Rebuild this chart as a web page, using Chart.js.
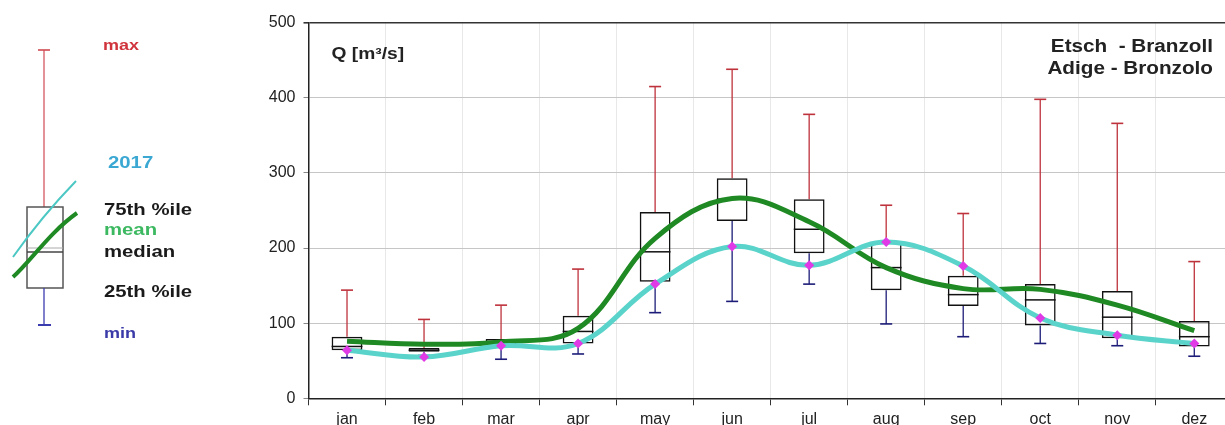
<!DOCTYPE html>
<html>
<head>
<meta charset="utf-8">
<title>Etsch - Branzoll / Adige - Bronzolo</title>
<script src="https://cdn.jsdelivr.net/npm/chart.js@4/dist/chart.umd.min.js"></script>
<style>
  html, body { margin: 0; padding: 0; background: #fff; overflow: hidden; }
  #wrap { position: absolute; left: 0; top: 0; width: 1240px; height: 425px; }
</style>
</head>
<body>
<div id="wrap"><canvas id="chart" width="1240" height="425"></canvas></div>
<script>
// Monthly discharge statistics, Q in m³/s
const months  = ['jan', 'feb', 'mar', 'apr', 'may', 'jun', 'jul', 'aug', 'sep', 'oct', 'nov', 'dez'];
const qMin    = [54, 57, 52, 59, 114, 129, 152,  99,  82,  73,  70,  56];
const q25     = [64, 62, 71, 73, 155, 236, 193, 144, 123,  97,  80,  69];
const qMedian = [69, 64, 75, 89, 195, 265, 225, 174, 138, 131, 108,  82];
const q75     = [82, 67, 79, 110, 248, 293, 265, 208, 163, 152, 143, 103];
const qMax    = [144, 105, 124, 172, 415, 438, 378, 257, 246, 398, 366, 182];
const qMean   = [76, 72, 75, 93, 213, 266, 235, 174, 146, 145, 124,  90];
const q2017   = [64, 55, 70, 73, 152, 202, 177, 208, 176, 107,  84,  73];
const yTicks  = [0, 100, 200, 300, 400, 500];

const COL_MAX = '#be323c';
const COL_MIN = '#1c1c78';
const COL_BOX = '#111111';
const COL_MEAN = '#1f8a24';
const COL_2017 = '#5ad4ca';
const COL_MARK = '#e03ae6';

function stretchedText(ctx, text, x, y, font, color, align, sx) {
  ctx.save();
  ctx.font = font;
  ctx.fillStyle = color;
  ctx.textBaseline = 'alphabetic';
  const w = ctx.measureText(text).width * sx;
  const left = align === 'right' ? x - w : x;
  ctx.translate(left, y);
  ctx.scale(sx, 1);
  ctx.textAlign = 'left';
  ctx.fillText(text, 0, 0);
  ctx.restore();
}

function seg(ctx, x1, y1, x2, y2, color, width) {
  ctx.beginPath();
  ctx.moveTo(x1, y1);
  ctx.lineTo(x2, y2);
  ctx.strokeStyle = color;
  ctx.lineWidth = width;
  ctx.stroke();
}

// whiskers, caps and median lines of the monthly boxes
const boxWhiskers = {
  id: 'boxWhiskers',
  beforeDatasetsDraw(chart) {
    const { ctx, scales: { x, y } } = chart;
    const meta = chart.getDatasetMeta(0);
    ctx.save();
    months.forEach((m, i) => {
      const cx = x.getPixelForValue(i);
      const half = meta.data[i].width / 2;
      const cap = 6;
      const yMax = y.getPixelForValue(qMax[i]);
      const yMin = y.getPixelForValue(qMin[i]);
      seg(ctx, cx, y.getPixelForValue(q75[i]), cx, yMax, COL_MAX, 1.3);
      seg(ctx, cx - cap, yMax, cx + cap, yMax, COL_MAX, 1.6);
      seg(ctx, cx, y.getPixelForValue(q25[i]), cx, yMin, COL_MIN, 1.3);
      seg(ctx, cx - cap, yMin, cx + cap, yMin, COL_MIN, 1.6);
      const yMed = y.getPixelForValue(qMedian[i]);
      seg(ctx, cx - half, yMed, cx + half, yMed, COL_BOX, 1.5);
    });
    ctx.restore();
  }
};

// chart titles and the explanatory box symbol on the left
const annotations = {
  id: 'annotations',
  afterDraw(chart) {
    const { ctx, chartArea } = chart;
    ctx.save();
    stretchedText(ctx, 'Q [m³/s]', chartArea.left + 23, 59, 'bold 16px "Liberation Sans", Arial, sans-serif', '#222', 'left', 1.2);
    stretchedText(ctx, 'Etsch  - Branzoll', 1213, 52, 'bold 18px "Liberation Sans", Arial, sans-serif', '#222', 'right', 1.15);
    stretchedText(ctx, 'Adige - Bronzolo', 1213, 74, 'bold 18px "Liberation Sans", Arial, sans-serif', '#222', 'right', 1.15);

    // box symbol
    seg(ctx, 44, 50, 44, 207, '#d04a52', 1.2);
    seg(ctx, 38, 50, 50, 50, '#d04a52', 1.6);
    ctx.strokeStyle = '#555';
    ctx.lineWidth = 1.5;
    ctx.strokeRect(27, 207, 36, 81);
    seg(ctx, 27, 248, 63, 248, '#aaa', 1);
    seg(ctx, 27, 252, 63, 252, '#444', 1.5);
    seg(ctx, 44, 288, 44, 325, '#3b3bb0', 1.3);
    seg(ctx, 38, 325, 51, 325, '#3b3bb0', 2);

    ctx.beginPath();
    ctx.moveTo(13, 257);
    ctx.quadraticCurveTo(42, 216, 76, 181);
    ctx.strokeStyle = '#4cc8c4';
    ctx.lineWidth = 2;
    ctx.stroke();

    ctx.beginPath();
    ctx.moveTo(13, 277);
    ctx.bezierCurveTo(30, 262, 50, 232, 77, 213);
    ctx.strokeStyle = '#1f8a24';
    ctx.lineWidth = 4;
    ctx.stroke();

    const f = 'bold 16px "Liberation Sans", Arial, sans-serif';
    stretchedText(ctx, 'max', 103, 50, 'bold 15px "Liberation Sans", Arial, sans-serif', '#d0343c', 'left', 1.2);
    stretchedText(ctx, '2017', 108, 168, f, '#3aa8d2', 'left', 1.27);
    stretchedText(ctx, '75th %ile', 104, 215, f, '#1a1a1a', 'left', 1.27);
    stretchedText(ctx, 'mean', 104, 235, f, '#3cb860', 'left', 1.27);
    stretchedText(ctx, 'median', 104, 257, f, '#1a1a1a', 'left', 1.27);
    stretchedText(ctx, '25th %ile', 104, 297, f, '#1a1a1a', 'left', 1.27);
    stretchedText(ctx, 'min', 104, 338, 'bold 15px "Liberation Sans", Arial, sans-serif', '#3a3aa8', 'left', 1.2);
    ctx.restore();
  }
};

new Chart(document.getElementById('chart'), {
  type: 'bar',
  data: {
    labels: months,
    datasets: [
      {
        label: 'box',
        data: months.map((m, i) => [q25[i], q75[i]]),
        backgroundColor: 'rgba(0,0,0,0)',
        borderColor: COL_BOX,
        borderWidth: 1.5,
        borderSkipped: false,
        barPercentage: 0.4,
        categoryPercentage: 1.0,
        order: 3
      },
      {
        type: 'line',
        label: 'mean',
        data: qMean,
        borderColor: COL_MEAN,
        borderWidth: 5,
        pointRadius: 0,
        tension: 0.38,
        fill: false,
        order: 2
      },
      {
        type: 'line',
        label: '2017',
        data: q2017,
        borderColor: COL_2017,
        borderWidth: 5,
        pointStyle: 'rectRot',
        pointRadius: 5,
        pointBackgroundColor: COL_MARK,
        pointBorderColor: COL_MARK,
        pointBorderWidth: 0,
        tension: 0.38,
        fill: false,
        order: 1
      }
    ]
  },
  options: {
    responsive: false,
    animation: false,
    devicePixelRatio: 1,
    layout: { padding: { left: 248.5, top: 22.7, right: 7.2, bottom: 0 } },
    plugins: { legend: { display: false }, tooltip: { enabled: false } },
    scales: {
      x: {
        offset: true,
        grid: { color: '#e8e8e8', tickColor: '#333', tickLength: 7, offset: true },
        border: { color: '#222', width: 1.5 },
        ticks: { color: '#222', padding: 5, font: { family: '"Liberation Sans", Arial, sans-serif', size: 16 } },
        afterFit(scale) { scale.height = 26.7; }
      },
      y: {
        min: 0,
        max: 500,
        afterBuildTicks(scale) { scale.ticks = yTicks.map(v => ({ value: v })); },
        grid: {
          color: c => (c.tick && c.tick.value === 500 ? '#333' : '#c6c6c6'),
          lineWidth: c => (c.tick && c.tick.value === 500 ? 1.6 : 1),
          tickColor: c => (c.tick && c.tick.value === 500 ? '#333' : '#888'),
          tickLength: 5
        },
        border: { color: '#222', width: 1.5 },
        ticks: { color: '#222', padding: 8, font: { family: '"Liberation Sans", Arial, sans-serif', size: 16 } },
        afterFit(scale) { scale.width = 60; }
      }
    }
  },
  plugins: [boxWhiskers, annotations]
});
</script>
</body>
</html>
